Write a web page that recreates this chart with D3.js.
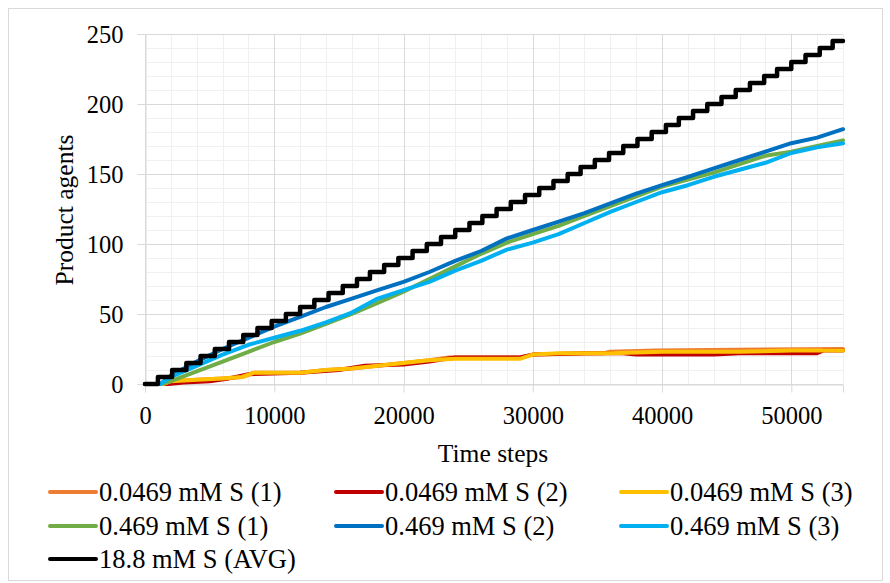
<!DOCTYPE html>
<html>
<head>
<meta charset="utf-8">
<script src="https://cdn.jsdelivr.net/npm/d3@7"></script>
<style>
  body { margin: 0; background: #fff; }
  svg { display: block; }
  text { font-family: "Liberation Serif", "Times New Roman", serif; fill: #000; }
</style>
</head>
<body>
<div id="chart"></div>
<script>
// Axis ticks
const xMajorTicks = [0, 10000, 20000, 30000, 40000, 50000];
const yMajorTicks = [0, 50, 100, 150, 200, 250];

// Series labels and colours (Excel palette)
const seriesNames = [
  "0.0469 mM S (1)", "0.0469 mM S (2)", "0.0469 mM S (3)",
  "0.469 mM S (1)", "0.469 mM S (2)", "0.469 mM S (3)",
  "18.8 mM S (AVG)"
];
const seriesColors = ["#ed7d31", "#c00000", "#ffc000", "#70ad47", "#0070c0", "#00b0f0", "#000000"];

// 0.0469 mM runs, [time step, product agents]
const low1 = [[0,0],[1500,0],[2000,2],[4000,3],[6000,4],[7500,5],[8400,8],[12000,8],[14000,10],[16000,11],
  [18000,13],[20000,15],[22000,17],[23500,19],[29000,19],[30000,21],[35500,22],[36000,23],[39500,24],[54000,25]];
const low2 = [[0,0],[1800,0],[3000,1],[5000,2],[6500,4],[8000,7],[12000,8],[15000,10],[17000,13],[20000,14],
  [22000,16],[24000,19],[29000,19],[30000,21],[34000,22],[37000,22],[38000,21],[44000,21],[46000,22],[52000,22],[52500,24],[54000,24]];
const low3 = [[0,0],[1400,0],[2000,2],[4000,3],[6000,4],[7500,5],[8400,8],[12000,8],[14000,10],[16000,11],
  [18000,13],[20000,15],[22000,17],[24000,18],[29000,18],[30000,21],[32000,22],[36000,22],[40000,23],[46000,23],[50000,24],[54000,24]];

// 0.469 mM runs, sampled on a shared time grid
const midTimes = [0, 1200, 2000, 4000, 6000, 8000, 10000, 12000, 14000, 16000, 18000, 20000, 22000, 24000,
  26000, 28000, 30000, 32000, 34000, 36000, 38000, 40000, 42000, 44000, 46000, 48000, 50000, 52000, 54000];
const mid1 = [0, 0, 2, 9, 16, 23, 30, 36, 43, 50, 58, 66, 75, 84, 93, 101, 107, 113, 120, 127, 134, 141, 146, 151, 157, 163, 166, 170, 174];
const mid2 = [0, 0, 6, 16, 25, 33, 41, 48, 55, 61, 67, 73, 80, 88, 95, 104, 110, 116, 122, 129, 136, 142, 148, 154, 160, 166, 172, 176, 182];
const mid3 = [0, 0, 5, 13, 21, 28, 33, 38, 44, 51, 61, 67, 73, 81, 88, 96, 101, 107, 115, 123, 130, 137, 142, 148, 153, 158, 165, 169, 172];

// 18.8 mM average: staircase, time of each step and level after it
const avgTimes = [0, 1000, 2100, 3200, 4300, 5400, 6500, 7600, 8700, 9800, 10900, 12000, 13100, 14200, 15300,
  16400, 17400, 18500, 19600, 20700, 21800, 22900, 24000, 25100, 26100, 27200, 28300, 29400, 30500, 31600,
  32700, 33700, 34800, 35900, 37000, 38100, 39200, 40300, 41300, 42400, 43500, 44600, 45700, 46800, 47900,
  48900, 50000, 51100, 52200, 53200, 54000];
const avgValues = [0, 5, 10, 15, 20, 25, 30, 35, 40, 45, 50, 55, 60, 65, 70, 75, 80, 85, 90, 95, 100, 105, 110,
  115, 120, 125, 130, 135, 140, 145, 150, 155, 160, 165, 170, 175, 180, 185, 190, 195, 200, 205, 210, 215, 220,
  225, 230, 235, 240, 245, 245];

const width = 890, height = 583;
const svg = d3.select("#chart").append("svg")
  .attr("width", width)
  .attr("height", height);

// Chart border
svg.append("rect")
  .attr("x", 8.5).attr("y", 8.5)
  .attr("width", 874).attr("height", 572)
  .attr("fill", "#fff")
  .attr("stroke", "#d9d9d9");

const x = d3.scaleLinear().domain([0, 54000]).range([145, 843]);
const y = d3.scaleLinear().domain([0, 250]).range([384, 34]);

// Minor grid
const grid = svg.append("g");
grid.selectAll("line.vminor")
  .data(d3.range(0, 54001, 2000))
  .join("line")
  .attr("x1", d => Math.round(x(d)) + 0.5).attr("x2", d => Math.round(x(d)) + 0.5)
  .attr("y1", y(0)).attr("y2", y(250))
  .attr("stroke", "#f0f0f0");
grid.selectAll("line.hminor")
  .data(d3.range(0, 251, 10))
  .join("line")
  .attr("y1", d => Math.round(y(d)) + 0.5).attr("y2", d => Math.round(y(d)) + 0.5)
  .attr("x1", x(0)).attr("x2", x(54000))
  .attr("stroke", "#f0f0f0");

// Major grid
grid.append("g").selectAll("line")
  .data(xMajorTicks)
  .join("line")
  .attr("x1", d => Math.round(x(d)) + 0.5).attr("x2", d => Math.round(x(d)) + 0.5)
  .attr("y1", y(0)).attr("y2", y(250))
  .attr("stroke", "#d9d9d9");
grid.append("g").selectAll("line")
  .data(yMajorTicks)
  .join("line")
  .attr("y1", d => Math.round(y(d)) + 0.5).attr("y2", d => Math.round(y(d)) + 0.5)
  .attr("x1", x(0)).attr("x2", x(54000))
  .attr("stroke", "#d9d9d9");

// Axes
const xAxis = svg.append("g")
  .attr("transform", `translate(0,${Math.round(y(0)) + 0.5})`)
  .call(d3.axisBottom(x).tickValues(xMajorTicks).tickSize(8).tickPadding(14).tickFormat(d3.format("d")));
const yAxis = svg.append("g")
  .attr("transform", `translate(${Math.round(x(0)) + 0.5},0)`)
  .call(d3.axisLeft(y).tickValues(yMajorTicks).tickSize(8).tickPadding(14));

[xAxis, yAxis].forEach(a => {
  a.attr("font-family", null);
  a.select(".domain").attr("stroke", "#d9d9d9");
  a.selectAll(".tick line").attr("stroke", "#d9d9d9");
  a.selectAll(".tick text")
    .attr("fill", "#000")
    .style("font-family", '"Liberation Serif", "Times New Roman", serif')
    .style("font-size", "24.5px");
});
yAxis.selectAll(".tick text").attr("dy", "0.34em");
xAxis.selectAll(".tick text").attr("dy", "0.71em");

// Axis titles
svg.append("text")
  .attr("x", 493).attr("y", 462)
  .attr("text-anchor", "middle")
  .style("font-size", "25.5px")
  .text("Time steps");
svg.append("text")
  .attr("transform", "translate(73,210) rotate(-90)")
  .attr("text-anchor", "middle")
  .style("font-size", "25.5px")
  .text("Product agents");

// Series
const allSeries = [
  low1, low2, low3,
  midTimes.map((t, i) => [t, mid1[i]]),
  midTimes.map((t, i) => [t, mid2[i]]),
  midTimes.map((t, i) => [t, mid3[i]]),
  avgTimes.map((t, i) => [t, avgValues[i]])
];

const lineLinear = d3.line().x(d => x(d[0])).y(d => y(d[1]));
const lineStep = d3.line().x(d => x(d[0])).y(d => y(d[1])).curve(d3.curveStepAfter);

svg.append("g").selectAll("path")
  .data(allSeries)
  .join("path")
  .attr("d", (d, i) => i === 6 ? lineStep(d) : lineLinear(d))
  .attr("fill", "none")
  .attr("stroke", (d, i) => seriesColors[i])
  .attr("stroke-width", (d, i) => i === 6 ? 4.5 : 4)
  .attr("stroke-linejoin", "round")
  .attr("stroke-linecap", "round");

// Legend
const legendCols = [50, 336, 621];
const legendRows = [492, 526, 559];
const legend = svg.append("g").selectAll("g")
  .data(seriesNames)
  .join("g")
  .attr("transform", (d, i) => `translate(${legendCols[i % 3]},${legendRows[Math.floor(i / 3)]})`);
legend.append("line")
  .attr("x1", 0).attr("x2", 46)
  .attr("stroke", (d, i) => seriesColors[i])
  .attr("stroke-width", 4)
  .attr("stroke-linecap", "round");
legend.append("text")
  .attr("x", 49).attr("dy", "0.34em")
  .style("font-size", "26.5px")
  .text(d => d);
</script>
</body>
</html>
